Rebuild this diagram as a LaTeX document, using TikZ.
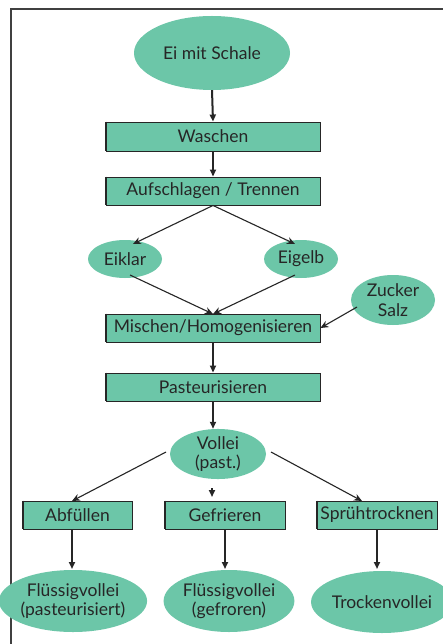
\documentclass[tikz,border=0pt]{standalone}
\usepackage{fontspec}
\setmainfont{Lato}
\usetikzlibrary{arrows.meta,shapes.geometric}
\definecolor{eggreen}{HTML}{6CC6A8}
\definecolor{txt}{HTML}{262626}
\begin{document}
\begin{tikzpicture}[x=1pt,y=-1pt,
  oval/.style={ellipse,fill=eggreen,draw=none,inner sep=0pt,text=txt,font=\fontsize{17.5}{19.5}\selectfont,align=center},
  stepbox/.style={rectangle,fill=eggreen,draw=black!85,line width=0.9pt,inner sep=0pt,text=txt,font=\fontsize{17.5}{19.5}\selectfont},
  thick arrow/.style={line width=2pt,draw=txt,-{Triangle[length=7pt,width=6pt]}},
  thin arrow/.style={line width=1.1pt,draw=txt,-{Stealth[length=8pt,width=7pt]}},
  thin line/.style={line width=1.1pt,draw=txt}]
\useasboundingbox (0,0) rectangle (442,644);
\fill[white] (0,0) rectangle (442,644);
\draw[line width=1.2pt,draw=black!75] (11,644) -- (11,9) -- (443,9);

\node[oval,minimum width=156pt,minimum height=74pt] (ei) at (212,53) {Ei mit Schale};
\node[stepbox,minimum width=214pt,minimum height=29pt] (wa) at (213,136.5) {Waschen};
\node[stepbox,minimum width=214pt,minimum height=28pt] (au) at (213,191) {Aufschlagen / Trennen};
\node[oval,minimum width=74pt,minimum height=38pt] (ek) at (125,259) {Eiklar};
\node[oval,minimum width=74pt,minimum height=38pt] (eg) at (301,259) {Eigelb};
\node[oval,minimum width=84pt,minimum height=50pt] (zs) at (393,300) {Zucker\\Salz};
\node[stepbox,minimum width=214pt,minimum height=28pt] (mi) at (213,328) {Mischen/Homogenisieren};
\node[stepbox,minimum width=214pt,minimum height=28pt] (pa) at (213,387) {Pasteurisieren};
\node[oval,minimum width=96pt,minimum height=48pt] (vo) at (218,454) {Vollei\\(past.)};
\node[stepbox,minimum width=109pt,minimum height=28pt] (ab) at (77.5,515) {Abfüllen};
\node[stepbox,minimum width=120pt,minimum height=28pt] (ge) at (225,515) {Gefrieren};
\node[stepbox,minimum width=120pt,minimum height=28pt] (sp) at (377,515) {Sprühtrocknen};
\node[oval,minimum width=114pt,minimum height=62pt] (f1) at (73,601) {Flüssigvollei\\(pasteurisiert)};
\node[oval,minimum width=117pt,minimum height=62pt] (f2) at (229,601) {Flüssigvollei\\(gefroren)};
\node[oval,minimum width=120pt,minimum height=62pt] (tr) at (382,602) {Trockenvollei};

% thick left edges
\foreach \n in {wa,au,mi,pa,ab,ge,sp}{\draw[line width=2pt,draw=black!85] (\n.north west) -- (\n.south west);}

\draw[thick arrow] (ei.south) -- (wa.north);
\draw[thick arrow] (wa.south) -- (au.north);
\coordinate (auB) at (au.south);
\draw[thin arrow] (auB) -- (133,244);
\draw[thin arrow] (auB) -- (295,244);
\coordinate (miT) at (213,314);
\draw[thin arrow] (130,275) -- (miT);
\draw[thin arrow] (295,275) -- (miT);
\draw[thin arrow] (357,307) -- (mi.east);
\draw[thick arrow] (mi.south) -- (pa.north);
\draw[thick arrow] (pa.south) -- (vo.north -| pa.south);
\draw[thin arrow] (166,452) -- (72,501);
\draw[thin arrow] (271,452) -- (362,501);
\draw[thick arrow] (212,488) -- (212,497);
\draw[thick arrow] (72,529) -- (72,569);
\draw[thick arrow] (225,529) -- (225,569);
\draw[thick arrow] (377,529) -- (377,569);
\end{tikzpicture}
\end{document}
